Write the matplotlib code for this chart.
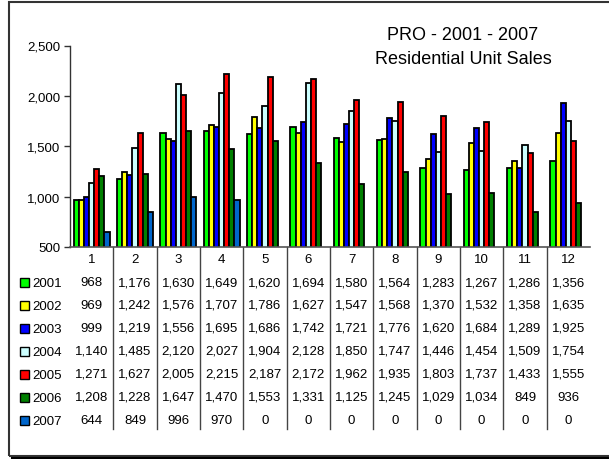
import numpy as np
import matplotlib.pyplot as plt
from matplotlib.patches import Rectangle
from matplotlib.lines import Line2D
import matplotlib.transforms as mtransforms

plt.rcParams['font.family'] = ['Liberation Sans', 'DejaVu Sans']

months = [str(m) for m in range(1, 13)]
years = ['2001', '2002', '2003', '2004', '2005', '2006', '2007']
sales_2001 = [968, 1176, 1630, 1649, 1620, 1694, 1580, 1564, 1283, 1267, 1286, 1356]
sales_2002 = [969, 1242, 1576, 1707, 1786, 1627, 1547, 1568, 1370, 1532, 1358, 1635]
sales_2003 = [999, 1219, 1556, 1695, 1686, 1742, 1721, 1776, 1620, 1684, 1289, 1925]
sales_2004 = [1140, 1485, 2120, 2027, 1904, 2128, 1850, 1747, 1446, 1454, 1509, 1754]
sales_2005 = [1271, 1627, 2005, 2215, 2187, 2172, 1962, 1935, 1803, 1737, 1433, 1555]
sales_2006 = [1208, 1228, 1647, 1470, 1553, 1331, 1125, 1245, 1029, 1034, 849, 936]
sales_2007 = [644, 849, 996, 970, 0, 0, 0, 0, 0, 0, 0, 0]
series = [sales_2001, sales_2002, sales_2003, sales_2004, sales_2005, sales_2006, sales_2007]
colors = ['#00ff00', '#ffff00', '#0000ff', '#ccffff', '#ff0000', '#008000', '#0066cc']

W, H = 609, 460
fig = plt.figure(figsize=(W / 100, H / 100), dpi=100)

def fy(py):
    return 1 - py / H

# outer frame
fig.add_artist(Rectangle((9 / W, fy(457)), 1.0, (457 - 3) / H, transform=fig.transFigure,
                         fill=False, edgecolor='#333333', linewidth=1.5, clip_on=False))
fig.add_artist(Line2D([12 / W, 1.0], [fy(459), fy(459)], transform=fig.transFigure,
                      color='black', linewidth=1.5))

ax = fig.add_axes([70 / W, fy(248), (590 - 70) / W, (248 - 46.5) / H])
x = np.arange(1, 13)
w = 0.118
for j, (vals, c) in enumerate(zip(series, colors)):
    ax.bar(x + (j - 3) * w, vals, width=w, color=c, edgecolor='black', linewidth=1.3, zorder=2)

ax.set_xlim(0.5, 12.5)
ax.set_ylim(500, 2500)
ax.set_yticks([500, 1000, 1500, 2000, 2500])
ax.set_yticklabels(['{:,}'.format(v) for v in [500, 1000, 1500, 2000, 2500]], fontsize=9.5)
ax.tick_params(axis='y', length=4, width=1, color='#333333', pad=3)
ax.set_xticks([])
for s in ['top', 'right']:
    ax.spines[s].set_visible(False)
ax.spines['left'].set_color('#333333')
ax.spines['bottom'].set_color('#555555')
ax.spines['left'].set_linewidth(1)
ax.spines['bottom'].set_linewidth(1.2)

# data table
tr = mtransforms.blended_transform_factory(ax.transData, fig.transFigure)
for i in range(1, 12):
    ax.add_line(Line2D([i + 0.5, i + 0.5], [fy(248), fy(430)], transform=tr,
                       color='#444444', linewidth=1, clip_on=False))
for i, m in enumerate(months):
    ax.text(x[i], fy(260), m, transform=tr, ha='center', va='center', fontsize=9.5)
row_y = [283, 306, 329, 352, 375, 398, 421]
for j, (yr, vals, c) in enumerate(zip(years, series, colors)):
    py = row_y[j]
    fig.add_artist(Rectangle((20 / W, fy(py + 4.5)), 9 / W, 9 / H, transform=fig.transFigure,
                             facecolor=c, edgecolor='black', linewidth=1))
    fig.text(32 / W, fy(py + 1), yr, ha='left', va='center', fontsize=9.5)
    for i, v in enumerate(vals):
        ax.text(x[i], fy(py), '{:,}'.format(v), transform=tr, ha='center', va='center', fontsize=9.5)

fig.text(463 / W, fy(35), 'PRO - 2001 - 2007', ha='center', va='center', fontsize=13)
fig.text(463 / W, fy(59), 'Residential Unit Sales', ha='center', va='center', fontsize=13)

fig.savefig('out.png', dpi=100, facecolor='white')
